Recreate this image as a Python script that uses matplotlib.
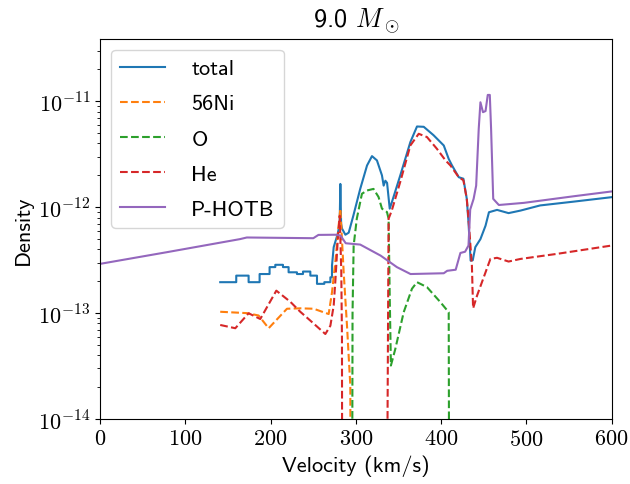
import numpy as np
import matplotlib
matplotlib.use("Agg")
import matplotlib.pyplot as plt
from matplotlib.ticker import FuncFormatter, FixedLocator

plt.rcParams["mathtext.fontset"] = "cm"
plt.rcParams["font.family"] = ["cmss10", "DejaVu Sans"]
plt.rcParams["axes.unicode_minus"] = False

FLOOR = 1e-16  # values far below the plotted range

# total density
v_total = [140.8, 159.6, 159.6, 174.1, 174.1, 187.0, 187.0, 198.7, 198.7, 205.4,
           205.4, 214.4, 214.4, 221.0, 221.0, 230.8, 230.8, 237.9, 237.9, 246.5,
           246.5, 254.3, 254.3, 262.9, 262.9, 270.0, 270.0, 271.9, 271.9, 273.9,
           278.6, 280.9, 281.7, 282.6, 283.6, 287.6, 291.5, 297.0, 305.0, 313.0,
           318.8, 324.6, 330.5, 332.5, 334.5, 336.5, 339.6, 342.2, 352.0, 363.8,
           371.6, 379.5, 391.0, 403.0, 408.8, 412.7, 420.6, 426.0, 430.0, 432.0,
           434.5, 437.0, 440.0, 446.0, 452.0, 456.0, 465.5, 479.0, 493.0, 516.0,
           555.5, 600.0]
rho_total = [1.96e-13, 1.96e-13, 2.26e-13, 2.26e-13, 1.96e-13, 1.96e-13, 2.34e-13, 2.34e-13, 2.72e-13, 2.72e-13,
             2.86e-13, 2.86e-13, 2.72e-13, 2.72e-13, 2.43e-13, 2.43e-13, 2.34e-13, 2.34e-13, 2.47e-13, 2.47e-13,
             2.26e-13, 2.26e-13, 1.89e-13, 1.89e-13, 1.96e-13, 1.96e-13, 2.18e-13, 2.18e-13, 2.81e-13, 4.2e-13,
             5.6e-13, 6.97e-13, 1.66e-12, 7.0e-13, 6.3e-13, 5.5e-13, 5.75e-13, 8.36e-13, 1.49e-12, 2.48e-12,
             3.04e-12, 2.77e-12, 2.0e-12, 1.6e-12, 1.78e-12, 1.7e-12, 9.7e-13, 1.12e-12, 2.0e-12, 4.12e-12,
             5.79e-12, 5.75e-12, 4.79e-12, 3.83e-12, 2.86e-12, 2.48e-12, 1.92e-12, 1.86e-12, 1.2e-12, 7.2e-13,
             3.13e-13, 3.16e-13, 4.2e-13, 5.0e-13, 6.7e-13, 8.97e-13, 9.44e-13, 8.8e-13, 9.3e-13, 1.04e-12,
             1.13e-12, 1.245e-12]

# 56Ni
v_ni = [140.8, 172.1, 185.8, 197.6, 219.1, 234.7, 250.4, 268.0, 271.9, 275.8,
        279.7, 281.7, 285.6, 289.5, 293.4, 294.0]
rho_ni = [1.03e-13, 1.0e-13, 9.5e-14, 7.2e-14, 1.1e-13, 1.11e-13, 1.1e-13, 9.8e-14, 1.57e-13, 3.03e-13,
          6.7e-13, 9.66e-13, 2.44e-13, 7.6e-14, 2.07e-14, FLOOR]

# O
v_o = [295.3, 296.0, 297.3, 301.0, 307.0, 313.0, 320.6, 326.5, 330.5, 336.4,
       338.3, 339.6, 341.0, 346.2, 356.0, 365.7, 371.6, 383.3, 399.0, 408.8, 409.6]
rho_o = [FLOOR, 1.0e-13, 4.35e-13, 7.8e-13, 1.34e-12, 1.44e-12, 1.49e-12, 1.25e-12, 9.7e-13, 9.0e-13,
         7.8e-13, 1.46e-13, 3.2e-14, 4.6e-14, 1.02e-13, 1.7e-13, 1.96e-13, 1.76e-13, 1.27e-13, 1.02e-13, FLOOR]

# He
v_he = [140.8, 158.5, 174.1, 187.8, 206.6, 223.0, 234.7, 246.5, 264.1, 270.0,
        273.9, 276.0, 278.7, 281.0, 282.8, 283.6, 284.0, 335.7, 338.3, 342.0,
        352.0, 363.8, 373.6, 383.3, 395.0, 405.0, 410.8, 420.6, 426.0, 430.0,
        432.0, 436.0, 437.4, 442.0, 457.7, 465.5, 479.0, 493.0, 536.0, 600.0]
rho_he = [7.73e-14, 7.2e-14, 9.97e-14, 8.8e-14, 1.63e-13, 1.28e-13, 1.03e-13, 8.5e-14, 6.35e-14, 7.6e-14,
          1.18e-13, 2.1e-13, 5.0e-13, 8.3e-13, 2.45e-13, 5.75e-14, FLOOR, FLOOR, 7.8e-13, 9.3e-13,
          1.74e-12, 3.83e-12, 4.94e-12, 4.6e-12, 3.56e-12, 2.77e-12, 2.48e-12, 1.92e-12, 1.8e-12, 1.2e-12,
          7.8e-13, 2.8e-13, 1.11e-13, 1.46e-13, 3.25e-13, 3.33e-13, 3.07e-13, 3.25e-13, 3.63e-13, 4.35e-13]

# P-HOTB
v_hotb = [0.0, 78.0, 164.0, 172.0, 250.0, 256.0, 276.0, 282.0, 288.0, 305.0,
          329.0, 348.0, 364.0, 403.0, 407.0, 417.0, 422.5, 428.0, 432.0, 434.0,
          438.0, 441.0, 444.0, 446.0, 449.0, 452.0, 454.6, 457.0, 458.5, 461.0,
          467.6, 497.0, 555.5, 600.0]
rho_hotb = [2.92e-13, 3.76e-13, 5.0e-13, 5.18e-13, 5.1e-13, 5.48e-13, 5.5e-13, 5.4e-13, 4.57e-13, 4.44e-13,
            3.49e-13, 2.72e-13, 2.34e-13, 2.38e-13, 2.51e-13, 2.57e-13, 3.7e-13, 3.8e-13, 4.35e-13, 9.5e-13,
            1.2e-12, 1.6e-12, 5.5e-12, 9.8e-12, 7.9e-12, 8.1e-12, 1.15e-11, 1.15e-11, 5.5e-12, 1.2e-12,
            1.05e-12, 1.1e-12, 1.27e-12, 1.41e-12]

y_ticks = [1e-14, 1e-13, 1e-12, 1e-11]
x_ticks = [0, 100, 200, 300, 400, 500, 600]

FS = 16

fig = plt.figure(figsize=(6.3, 4.85), dpi=100)
ax = fig.add_axes([0.159, 0.134, 0.812, 0.784])

ax.plot(v_total, rho_total, "-", color="C0", lw=1.5, label="total")
ax.plot(v_ni, rho_ni, "--", color="C1", lw=1.5, label="56Ni")
ax.plot(v_o, rho_o, "--", color="C2", lw=1.5, label="O")
ax.plot(v_he, rho_he, "--", color="C3", lw=1.5, label="He")
ax.plot(v_hotb, rho_hotb, "-", color="C4", lw=1.5, label="P-HOTB")

ax.set_yscale("log")
ax.set_xlim(0, 600)
ax.set_ylim(1e-14, 3.9e-11)
ax.yaxis.set_major_locator(FixedLocator(y_ticks))
ax.yaxis.set_major_formatter(FuncFormatter(lambda y, p: r"$10^{%d}$" % round(np.log10(y))))
ax.xaxis.set_major_locator(FixedLocator(x_ticks))
ax.xaxis.set_major_formatter(FuncFormatter(lambda x, p: r"$%d$" % round(x)))
ax.tick_params(axis="both", labelsize=FS)

ax.set_xlabel("Velocity (km/s)", fontsize=FS)
ax.set_ylabel("Density", fontsize=FS)
ax.set_title(r"9.0 $M_\odot$", fontsize=19, pad=9)

ax.legend(loc="upper left", fontsize=FS, handlelength=2.0,
          handletextpad=1.2, labelspacing=0.7)

fig.savefig("out.png", dpi=100)
